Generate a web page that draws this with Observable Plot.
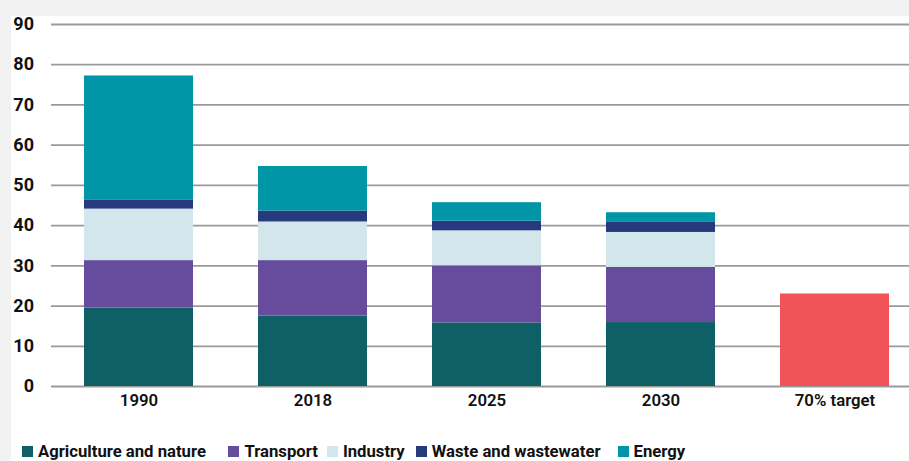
<!DOCTYPE html>
<html>
<head>
<meta charset="utf-8">
<script src="https://cdn.jsdelivr.net/npm/d3@7"></script>
<script src="https://cdn.jsdelivr.net/npm/@observablehq/plot@0.6"></script>
<style>
  html, body { margin: 0; padding: 0; background: #f2f2f2; width: 909px; height: 461px; overflow: hidden; }
  #panel { position: absolute; left: 11px; top: 16px; right: 0; bottom: 0; background: #ffffff; }
  #panel svg { display: block; overflow: visible; }
  .leg-swatches { margin-top: 9px !important; font-family: Roboto, sans-serif !important; font-size: 16.7px !important; font-weight: 700 !important; color: #111 !important; min-height: 33px !important; }
  .leg-swatch { margin-right: 22px !important; }
  .leg-swatch:nth-of-type(1) { margin-right: 22.5px !important; }
  .leg-swatch:nth-of-type(2) { margin-right: 9px !important; }
  .leg-swatch:nth-of-type(3) { margin-right: 11px !important; }
  .leg-swatch:nth-of-type(4) { margin-right: 17px !important; }
  .leg-swatch > svg { margin-right: 5px !important; }
</style>
</head>
<body>
<div id="panel"></div>
<script>
const categories = ["1990", "2018", "2025", "2030", "70% target"];
const sectors = ["Agriculture and nature", "Transport", "Industry", "Waste and wastewater", "Energy"];
const sectorColors = ["#0e5f66", "#674b9d", "#d2e6ec", "#263a7d", "#0096a7"];
const years = ["1990", "2018", "2025", "2030"];
const agriculture = [19.5, 17.5, 15.8, 15.9];
const transport = [11.8, 13.8, 14.2, 13.7];
const industry = [12.8, 9.6, 8.7, 8.7];
const waste = [2.3, 2.7, 2.4, 2.5];
const energy = [30.8, 11.1, 4.6, 2.4];
const targetLabel = "70% target";
const targetValue = 23.0;
const targetColor = "#f05459";
const yTicks = [0, 10, 20, 30, 40, 50, 60, 70, 80, 90];

const series = [agriculture, transport, industry, waste, energy];
const rows = [];
years.forEach((yr, i) => {
  sectors.forEach((s, j) => rows.push({year: yr, sector: s, value: series[j][i]}));
});
const target = [{year: targetLabel, value: targetValue}];

const chart = Plot.plot({
  width: 898,
  height: 410,
  marginTop: 8,
  marginBottom: 40,
  marginLeft: 40,
  marginRight: 0,
  style: {fontFamily: "Roboto, sans-serif", background: "transparent", color: "#111"},
  x: {domain: categories, paddingInner: 0.3745, paddingOuter: 0.149, align: 0.615, label: null},
  y: {domain: [0, 90], label: null},
  color: {domain: sectors, range: sectorColors},
  marks: [
    Plot.gridY(yTicks, {stroke: "#9a9a9a", strokeOpacity: 1, strokeWidth: 1.8}),
    Plot.barY(rows, Plot.stackY({x: "year", y: "value", fill: "sector", order: null})),
    Plot.barY(target, {x: "year", y: "value", fill: targetColor}),
    Plot.axisY({ticks: yTicks, tickSize: 0, tickPadding: 17.5, fontSize: 18, fontWeight: 700, label: null}),
    Plot.axisX({tickSize: 0, tickPadding: 7.6, fontSize: 16.8, fontWeight: 600, label: null})
  ]
});
const panel = document.getElementById("panel");
panel.appendChild(chart);
const legend = Plot.legend({
  color: {domain: sectors, range: sectorColors},
  className: "leg",
  swatchSize: 11,
  marginLeft: 11
});
panel.appendChild(legend);
</script>
</body>
</html>
